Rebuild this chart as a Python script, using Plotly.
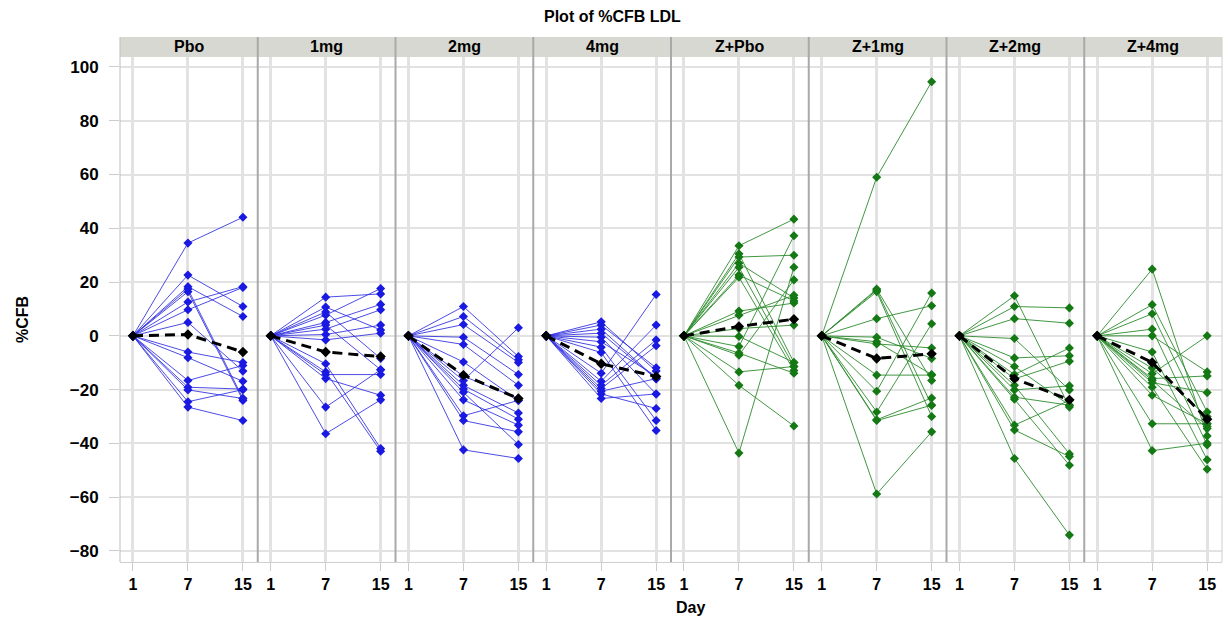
import plotly.graph_objects as go

days = ["1", "7", "15"]
panels = ["Pbo", "1mg", "2mg", "4mg", "Z+Pbo", "Z+1mg", "Z+2mg", "Z+4mg"]
y_ticks = [-80, -60, -40, -20, 0, 20, 40, 60, 80, 100]

# Individual subjects: %CFB at day 7 and day 15 (day 1 is always 0)
pbo_d7 = [34.5, 22.6, 18.3, 17.4, 16.4, 12.6, 9.7, 5.0, -6.0, -8.1, -16.6, -19.1, -20.1, -24.5, -26.5]
pbo_d15 = [44.1, 10.9, 7.2, -23.3, -24.0, 18.3, 18.0, -13.1, -9.9, -16.9, -11.0, -19.8, -23.3, -20.0, -31.5]

mg1_d7 = [14.4, 10.7, 8.9, 7.7, 5.0, 4.0, 2.5, 0.5, -1.5, -10.4, -13.4, -14.4, -15.9, -26.5, -36.4]
mg1_d15 = [15.6, 2.2, -8.4, 17.6, 11.7, -12.6, 9.7, 4.0, 1.0, -41.9, -42.9, -14.4, -22.1, -12.6, -23.8]

mg2_d7 = [10.9, 7.2, 4.2, -0.5, -3.2, -9.7, -15.0, -16.6, -18.4, -19.8, -23.8, -29.7, -31.5, -42.4, -21.0]
mg2_d15 = [-7.7, -8.9, -9.9, -14.4, -18.4, -24.0, -23.3, 3.0, -28.7, -31.0, -33.2, -24.0, -35.7, -45.6, -40.4]

mg4_d7 = [5.2, 4.0, 2.5, 1.0, -0.5, -2.2, -4.2, -6.2, -13.9, -16.9, -18.4, -19.6, -20.6, -21.6, -23.3]
mg4_d15 = [-13.1, -11.9, -15.9, -16.0, -21.6, -15.0, -31.5, -35.2, 15.4, 4.0, -1.5, -3.7, -15.9, -27.0, -21.6]

zpbo_d7 = [33.5, 30.5, 29.3, 27.0, 25.5, 22.6, 21.8, 9.2, 7.7, 2.7, -0.2, -4.0, -6.4, -7.2, -13.4, -18.4, -43.6]
zpbo_d15 = [43.4, -9.9, 30.0, 14.1, -11.4, 13.0, -12.9, 12.2, 15.1, 4.0, -9.9, 37.2, -13.9, 20.8, -11.4, -33.5, 25.5]

z1_d7 = [59.0, 17.4, 16.4, 17.0, 6.4, -0.5, -2.2, -3.0, -14.6, -20.6, -28.3, -31.2, -31.5, -58.8]
z1_d15 = [94.5, -16.6, -30.0, -25.8, 11.2, -8.4, -14.4, -4.5, -14.6, 15.9, 4.5, -23.1, -25.8, -35.7]

z2_d7 = [14.9, 10.9, 6.4, -1.0, -8.2, -11.4, -14.4, -16.0, -18.4, -20.1, -22.8, -23.6, -33.2, -35.0, -45.6]
z2_d15 = [-26.5, 10.4, 4.7, -20.1, -7.4, -25.8, -4.5, -9.4, -43.9, -18.6, -25.8, -48.1, -24.0, -44.9, -74.1]

z4_d7 = [24.8, 11.6, 8.2, 2.5, 0.0, -6.0, -14.1, -15.9, -17.4, -19.1, -22.1, -32.7, -42.7, -12.0, -16.5]
z4_d15 = [-37.2, -28.3, -33.7, -40.6, -13.4, -46.1, 0.0, -14.9, -21.1, -49.6, -32.7, -32.7, -39.9, -30.0, -34.5]

# Mean profiles (day 1, 7, 15)
mean_pbo = [0, 0.5, -6.0]
mean_1mg = [0, -6.0, -7.7]
mean_2mg = [0, -14.6, -23.3]
mean_4mg = [0, -10.4, -15.1]
mean_zpbo = [0, 3.5, 6.2]
mean_z1 = [0, -8.4, -6.7]
mean_z2 = [0, -15.9, -23.8]
mean_z4 = [0, -9.9, -31.0]

groups = [
    (pbo_d7, pbo_d15, mean_pbo),
    (mg1_d7, mg1_d15, mean_1mg),
    (mg2_d7, mg2_d15, mean_2mg),
    (mg4_d7, mg4_d15, mean_4mg),
    (zpbo_d7, zpbo_d15, mean_zpbo),
    (z1_d7, z1_d15, mean_z1),
    (z2_d7, z2_d15, mean_z2),
    (z4_d7, z4_d15, mean_z4),
]

BLUE_M = "rgb(25,25,225)"
BLUE_L = "rgba(45,45,225,0.85)"
GREEN_M = "rgb(20,120,20)"
GREEN_L = "rgba(45,140,45,0.9)"
GRID = "#e2e2e2"
SEP = "#a9a9a9"
FONT = "Liberation Sans, Arial, sans-serif"

fig = go.Figure()
n = len(panels)
for i, (d7, d15, mn) in enumerate(groups):
    xa = "x" if i == 0 else f"x{i+1}"
    mc, lc = (BLUE_M, BLUE_L) if i < 4 else (GREEN_M, GREEN_L)
    for a, b in zip(d7, d15):
        fig.add_trace(go.Scatter(
            x=days, y=[0, a, b], xaxis=xa, yaxis="y", mode="lines+markers",
            line=dict(color=lc, width=1),
            marker=dict(symbol="diamond", size=7, color=mc),
            showlegend=False, hoverinfo="y"))
    fig.add_trace(go.Scatter(
        x=days, y=mn, xaxis=xa, yaxis="y", mode="lines+markers",
        line=dict(color="black", width=3, dash="10px,6px"),
        marker=dict(symbol="diamond", size=8, color="black"),
        showlegend=False, hoverinfo="y"))

layout = dict(
    width=1225, height=619,
    margin=dict(l=120, r=3, t=57, b=57),
    paper_bgcolor="white", plot_bgcolor="white",
    font=dict(family=FONT, color="black"),
    yaxis=dict(domain=[0, 1], range=[-84.1, 103.7], tickvals=y_ticks,
               showgrid=True, gridcolor=GRID, gridwidth=2, zeroline=False,
               ticks="outside", ticklen=10, tickcolor="#cccccc", tickwidth=1,
               ticklabelstandoff=7,
               tickfont=dict(size=17, family=FONT, weight="bold"),
               anchor="x", showline=False),
)
strip_h = 20 / 505
shapes = []
annotations = []
for i in range(n):
    key = "xaxis" if i == 0 else f"xaxis{i+1}"
    layout[key] = dict(
        domain=[i / n, (i + 1) / n], type="category", range=[-0.236, 2.27],
        categoryorder="array", categoryarray=days,
        tickvals=days, ticktext=days,
        showgrid=True, gridcolor=GRID, gridwidth=3, zeroline=False,
        ticks="outside", ticklen=8, tickcolor="#cccccc",
        tickfont=dict(size=16, family=FONT, weight="bold"),
        showline=True, linecolor="#cfcfcf", linewidth=1,
        anchor="y")
    shapes.append(dict(type="rect", xref="paper", yref="paper",
                       x0=i / n, x1=(i + 1) / n, y0=1, y1=1 + strip_h,
                       fillcolor="#d8d8d2", line=dict(width=0), layer="below"))
    annotations.append(dict(text=f"<b>{panels[i]}</b>", xref="paper", yref="paper",
                            x=(i + 0.5) / n, y=1 + strip_h / 2,
                            xanchor="center", yanchor="middle", showarrow=False,
                            font=dict(size=16, family=FONT, color="black")))
    # zero reference line
    shapes.append(dict(type="line", xref=f"x{'' if i == 0 else i+1} domain", yref="y",
                       x0=0, x1=1, y0=0, y1=0,
                       line=dict(color="#999999", width=1, dash="dot"), layer="below"))

for i in range(1, n):
    shapes.append(dict(type="line", xref="paper", yref="paper", x0=i / n, x1=i / n,
                       y0=0, y1=1 + strip_h, line=dict(color=SEP, width=2)))
shapes.append(dict(type="line", xref="paper", yref="paper", x0=0, x1=0,
                   y0=0, y1=1 + strip_h, line=dict(color="#bdbdbd", width=1)))
shapes.append(dict(type="line", xref="paper", yref="paper", x0=1, x1=1,
                   y0=0, y1=1 + strip_h, line=dict(color="#cfcfcf", width=1)))

annotations.append(dict(text="<b>Plot of %CFB LDL</b>", xref="paper", yref="paper",
                        x=0.447, y=1 + 40 / 505, xanchor="center", yanchor="middle",
                        showarrow=False, font=dict(size=16, family=FONT)))
annotations.append(dict(text="<b>Day</b>", xref="paper", yref="paper",
                        x=(690 - 120) / 1102, y=-45 / 505, xanchor="center", yanchor="middle",
                        showarrow=False, font=dict(size=16, family=FONT)))
annotations.append(dict(text="<b>%CFB</b>", xref="paper", yref="paper",
                        x=-(120 - 22) / 1102, y=(562 - 320) / 505, xanchor="center", yanchor="middle",
                        textangle=-90, showarrow=False, font=dict(size=16, family=FONT)))

layout["shapes"] = shapes
layout["annotations"] = annotations
fig.update_layout(**layout)
fig.write_html("out.html")
